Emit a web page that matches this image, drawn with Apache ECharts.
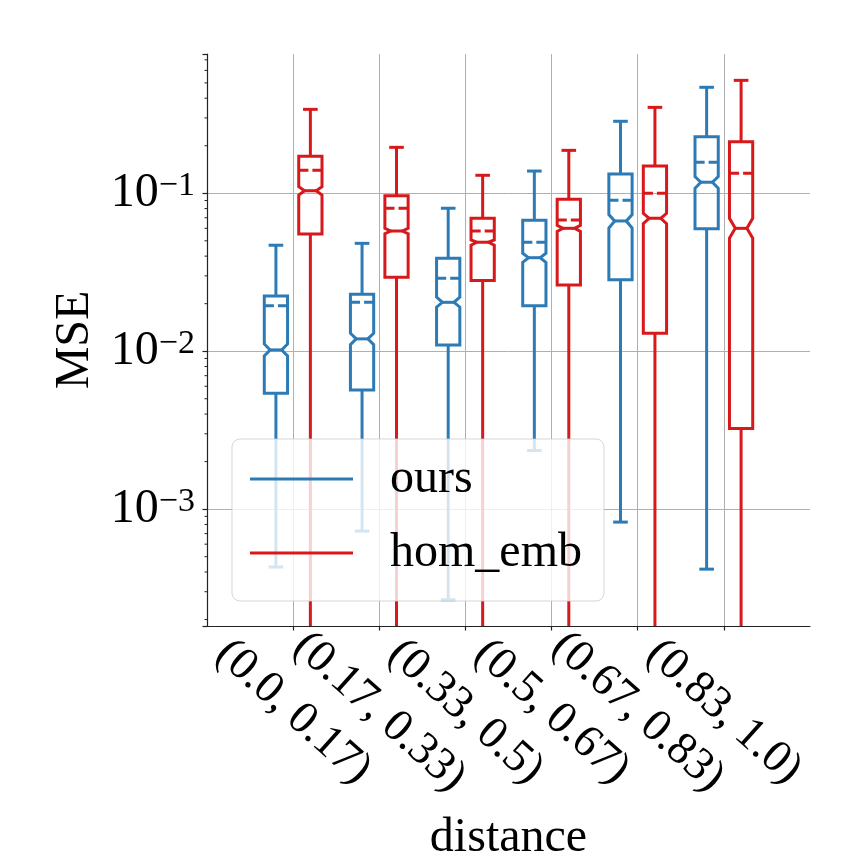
<!DOCTYPE html>
<html>
<head>
<meta charset="utf-8">
<script src="https://cdn.jsdelivr.net/npm/echarts@6/dist/echarts.min.js"></script>
<style>
  html, body { margin: 0; padding: 0; background: #fff; }
  #chart { width: 864px; height: 864px; }
</style>
</head>
<body>
<div id="chart"></div>
<script>
// x categories (distance bins)
var categories = ['(0.0, 0.17)', '(0.17, 0.33)', '(0.33, 0.5)', '(0.5, 0.67)', '(0.67, 0.83)', '(0.83, 1.0)'];

// ours
var oursWhiskerLow  = [0.00043, 0.000726, 0.000267, 0.00235, 0.000828, 0.000417];
var oursQ1          = [0.00542, 0.00569, 0.01096, 0.01937, 0.0283, 0.0597];
var oursNotchLow    = [0.00934, 0.0110, 0.0190, 0.0365, 0.0603, 0.1076];
var oursMedian      = [0.01019, 0.01197, 0.0204, 0.0391, 0.0668, 0.1175];
var oursNotchHigh   = [0.01112, 0.0130, 0.0220, 0.0417, 0.0733, 0.1274];
var oursQ3          = [0.0224, 0.02296, 0.0388, 0.0675, 0.1324, 0.228];
var oursWhiskerHigh = [0.0469, 0.0482, 0.0804, 0.1383, 0.2857, 0.469];
var oursMean        = [0.01937, 0.0204, 0.0290, 0.049, 0.0903, 0.157];

// hom_emb (lower whiskers run below the visible range)
var homWhiskerLow  = [0.00005, 0.00005, 0.00005, 0.00005, 0.00005, 0.00005];
var homQ1          = [0.0552, 0.0294, 0.028, 0.0263, 0.0130, 0.00324];
var homNotchLow    = [0.0975, 0.0555, 0.0469, 0.0573, 0.0643, 0.0519];
var homMedian      = [0.1038, 0.0577, 0.0490, 0.060, 0.0695, 0.060];
var homNotchHigh   = [0.110, 0.060, 0.0506, 0.0627, 0.0747, 0.0695];
var homQ3          = [0.1714, 0.0966, 0.0695, 0.0916, 0.149, 0.212];
var homWhiskerHigh = [0.340, 0.1954, 0.130, 0.187, 0.350, 0.519];
var homMean        = [0.140, 0.0804, 0.0577, 0.0678, 0.100, 0.134];

// y axis
var yTickExponents = [-3, -2, -1];
var yMin = 1.82e-4, yMax = 0.762;

var font = 'Liberation Serif';
var blue = '#2c7bb6', red = '#d7191c';
var boxWidth = 0.27, lw = 3;

function rows(offset, wl, q1, nl, md, nh, q3, wh, mn) {
  var out = [];
  for (var i = 0; i < categories.length; i++) {
    out.push([i + offset, wl[i], q1[i], nl[i], md[i], nh[i], q3[i], wh[i], mn[i]]);
  }
  return out;
}

// minor ticks of the log axis (2..9 per decade)
var minorTicks = [];
for (var e = -4; e <= 0; e++) {
  for (var m = 2; m <= 9; m++) {
    var v = m * Math.pow(10, e);
    if (v > yMin && v < yMax) minorTicks.push([-1, v]);
  }
}

function boxItem(color) {
  return function (params, api) {
    var x = api.value(0);
    var w = api.size([boxWidth, 0])[0];
    var cx = api.coord([x, api.value(4)])[0];
    function py(i) { return api.coord([x, api.value(i)])[1]; }
    var yWl = py(1), yQ1 = py(2), yNl = py(3), yMd = py(4), yNh = py(5), yQ3 = py(6), yWh = py(7), yMn = py(8);
    var l = cx - w / 2, r = cx + w / 2, nl = cx - w / 4, nr = cx + w / 4;
    var st = { stroke: color, lineWidth: lw, fill: 'none' };
    var cap = { stroke: color, lineWidth: lw, lineCap: 'square' };
    return {
      type: 'group',
      children: [
        // notched box
        { type: 'polygon', shape: { points: [
          [l, yQ1], [r, yQ1], [r, yNl], [nr, yMd], [r, yNh], [r, yQ3],
          [l, yQ3], [l, yNh], [nl, yMd], [l, yNl]
        ] }, style: st },
        // median
        { type: 'line', shape: { x1: nl, y1: yMd, x2: nr, y2: yMd }, style: st },
        // mean (dashed)
        { type: 'line', shape: { x1: l, y1: yMn, x2: r, y2: yMn },
          style: { stroke: color, lineWidth: lw, lineDash: [(w - 4) / 2, 4] } },
        // whiskers
        { type: 'line', shape: { x1: cx, y1: yQ1, x2: cx, y2: yWl }, style: st },
        { type: 'line', shape: { x1: cx, y1: yQ3, x2: cx, y2: yWh }, style: st },
        // caps
        { type: 'line', shape: { x1: nl, y1: yWl, x2: nr, y2: yWl }, style: cap },
        { type: 'line', shape: { x1: nl, y1: yWh, x2: nr, y2: yWh }, style: cap }
      ]
    };
  };
}

var myChart = echarts.init(document.getElementById('chart'));

var option = {
  backgroundColor: '#fff',
  animation: false,
  grid: { left: 207, right: 54, top: 54, bottom: 238, outerBoundsMode: 'none' },
  legend: {
    orient: 'vertical',
    left: 232,
    top: 439,
    data: [{ name: 'ours', icon: 'rect' }, { name: 'hom_emb', icon: 'rect' }],
    itemWidth: 103,
    itemHeight: 3,
    itemGap: 26,
    padding: [16, 22, 24, 18],
    backgroundColor: 'rgba(255,255,255,0.8)',
    borderColor: 'rgba(204,204,204,0.8)',
    borderWidth: 1,
    borderRadius: 8,
    selectedMode: false,
    textStyle: { fontFamily: font, fontSize: 48, color: '#000', padding: [0, 0, 0, 32] }
  },
  xAxis: {
    type: 'value',
    min: -1,
    max: 6,
    interval: 1,
    name: 'distance',
    nameLocation: 'middle',
    nameGap: 188,
    nameMoveOverlap: false,
    nameTextStyle: { fontFamily: font, fontSize: 48, color: '#000' },
    axisLine: { show: true, onZero: false, lineStyle: { color: '#222', width: 1.2 } },
    axisTick: { show: true, length: 4.5, customValues: [0, 1, 2, 3, 4, 5], lineStyle: { color: '#222', width: 1.2 } },
    axisLabel: {
      customValues: [0, 1, 2, 3, 4, 5],
      rotate: -42,
      align: 'center',
      verticalAlign: 'middle',
      margin: 86,
      fontFamily: font,
      fontSize: 46,
      color: '#000',
      formatter: function (v) { return categories[v] || ''; }
    },
    splitLine: { show: true, lineStyle: { color: '#b0b0b0', width: 1 } }
  },
  yAxis: {
    type: 'log',
    logBase: 10,
    min: yMin,
    max: yMax,
    name: 'MSE',
    nameLocation: 'middle',
    nameGap: 108,
    nameRotate: 90,
    nameMoveOverlap: false,
    nameTextStyle: { fontFamily: font, fontSize: 48, color: '#000' },
    axisLine: { show: true, onZero: false, lineStyle: { color: '#222', width: 1.2 } },
    axisTick: { show: true, length: 4.5, lineStyle: { color: '#222', width: 1.2 } },
    axisLabel: {
      margin: 12,
      fontFamily: font,
      color: '#000',
      formatter: function (v) {
        var ex = Math.round(Math.log10(v));
        if (Math.abs(Math.log10(v) - ex) > 1e-6 || yTickExponents.indexOf(ex) < 0) return '';
        return '{b|10}{s|\u2212' + (-ex) + '}';
      },
      rich: {
        b: { fontFamily: font, fontSize: 48, color: '#000' },
        s: { fontFamily: font, fontSize: 34, color: '#000', verticalAlign: 'top', padding: [0, 0, 6, 0] }
      }
    },
    splitLine: { show: true, showMinLine: false, showMaxLine: false, lineStyle: { color: '#b0b0b0', width: 1 } }
  },
  series: [
    {
      name: 'ours',
      type: 'custom',
      clip: true,
      itemStyle: { color: blue },
      encode: { x: 0, y: [1, 2, 3, 4, 5, 6, 7, 8] },
      data: rows(-0.2, oursWhiskerLow, oursQ1, oursNotchLow, oursMedian, oursNotchHigh, oursQ3, oursWhiskerHigh, oursMean),
      renderItem: boxItem(blue)
    },
    {
      name: 'hom_emb',
      type: 'custom',
      clip: true,
      itemStyle: { color: red },
      encode: { x: 0, y: [1, 2, 3, 4, 5, 6, 7, 8] },
      data: rows(0.2, homWhiskerLow, homQ1, homNotchLow, homMedian, homNotchHigh, homQ3, homWhiskerHigh, homMean),
      renderItem: boxItem(red)
    },
    {
      name: 'minor',
      type: 'custom',
      silent: true,
      clip: false,
      encode: { x: 0, y: 1 },
      data: minorTicks,
      renderItem: function (params, api) {
        var p = api.coord([api.value(0), api.value(1)]);
        return { type: 'line', shape: { x1: p[0] - 2.5, y1: p[1], x2: p[0], y2: p[1] },
          style: { stroke: '#222', lineWidth: 1 } };
      }
    }
  ]
};

myChart.setOption(option);
</script>
</body>
</html>
